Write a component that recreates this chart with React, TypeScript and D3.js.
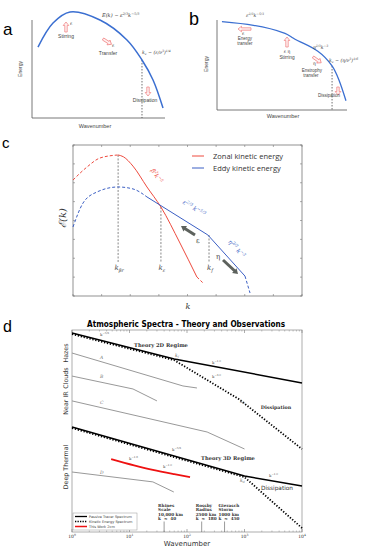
import React from "react"
import * as d3 from "d3"

// ---- panel a: 3D-like cascade (arbitrary units) ----
const aSpectrum: [number, number][] = [[4.5, 72.4], [15.8, 96.9], [28.6, 108.2], [51.1, 100], [71.4, 79.6], [82.7, 59.2], [91, 38.8], [98.5, 10.2]]
const aKnu = 82.7
// ---- panel b: 2D dual cascade ----
const bSpectrum: [number, number][] = [[3.8, 98.1], [52.3, 85.2], [58.5, 80], [88.5, 48.9], [93.8, 33.3], [99.2, 10.3]]
const bKnu = 88.5
// ---- panel c: zonal / eddy kinetic energy ----
const zonalLow: [number, number][] = [[0, 76.8], [6.1, 85.4], [11.8, 91.4], [19.7, 93.4]]
const zonalMid: [number, number][] = [[19.7, 93.4], [22, 92.2], [26.2, 86], [32.3, 72.2], [38.4, 58.9], [46.7, 35.1], [54.1, 12.6]]
const zonalHigh: [number, number][] = [[54.1, 12.6], [56.8, 8.6]]
const eddyLow: [number, number][] = [[0, 45.7], [4.4, 61.6], [10.5, 68.9], [19.7, 72.2], [26.2, 70.9], [32.3, 65.6]]
const eddyMid: [number, number][] = [[32.3, 65.6], [58.9, 40.4], [75.1, 13.2]]
const eddyHigh: [number, number][] = [[75.1, 13.2], [77.3, 2]]
const cMarks = [{ k: 19.7, top: 93.4, sub: "βr" }, { k: 38.4, top: 58.9, sub: "ε" }, { k: 59.4, top: 40.4, sub: "f" }]
// ---- panel d: observations (k, log-energy arbitrary units) ----
const tracer2D: [number, number][] = [[1, 98.5], [60, 85.6], [1e4, 73.8]]
const kinetic2D: [number, number][] = [[1, 98.5], [60, 85.6], [800, 66.3], [1e4, 41.6]]
const tracer3D: [number, number][] = [[1, 52], [1000, 27.7], [1e4, 22.8]]
const kinetic3D: [number, number][] = [[1, 52], [1000, 27.7], [1e4, 2.5]]
const obsA: [number, number][] = [[1, 88.6], [85, 72.3], [149, 71.3]]
const obsB: [number, number][] = [[1, 77.2], [11.5, 70.8], [30, 64.9]]
const obsC: [number, number][] = [[1, 64.9], [224, 49.5], [1000, 41.1]]
const obsD: [number, number][] = [[1, 29.7], [25.5, 24.8], [59, 19.8]]
const thisWork: [number, number][] = [[4.8, 36.1], [12, 33], [25.5, 30.7], [60, 28.6], [113, 27.2]]
const scaleMarks = [
	{ k: 40, lines: ["Rhines", "Scale", "10,000 km", "k  ≈  40"] },
	{ k: 180, lines: ["Rossby", "Radius", "2500 km", "k  ≈  180"] },
	{ k: 450, lines: ["Gierasch", "Storm", "1000 km", "k  ≈  450"] },
]
const bandLabels = [{ t: "Hazes", y: 353 }, { t: "Clouds", y: 378 }, { t: "Near IR", y: 403 }, { t: "Deep Thermal", y: 467 }]
const decades = [1, 10, 100, 1000, 10000]

type Part = [string, ("n" | "sup" | "sub")?]

const Rich = ({ x, y, parts, fs, fill = "#333", italic = false, anchor = "start", family = "DejaVu Serif", weight = "normal", rotate = 0 }: any) => {
	let cur = 0
	const spans = (parts as Part[]).map(([t, k = "n"], i) => {
		const target = k === "sup" ? -fs * 0.42 : k === "sub" ? fs * 0.28 : 0
		const dy = target - cur
		cur = target
		return (
			<tspan key={i} dy={dy} fontSize={k === "n" ? fs : fs * 0.68}>
				{t}
			</tspan>
		)
	})
	return (
		<text x={x} y={y} fontSize={fs} fill={fill} fontStyle={italic ? "italic" : "normal"} fontFamily={family} fontWeight={weight} textAnchor={anchor} transform={rotate ? `rotate(${rotate},${x},${y})` : undefined}>
			{spans}
		</text>
	)
}

const HollowArrow = ({ x, y, len, angle, stroke = "#ef7b7b" }: any) => {
	const h = 3.5
	const p = `M0,-1.2 L${len - h},-1.2 L${len - h},-2.8 L${len},0 L${len - h},2.8 L${len - h},1.2 L0,1.2 Z`
	return <path d={p} transform={`translate(${x},${y}) rotate(${angle})`} fill="#fff1f1" stroke={stroke} strokeWidth={0.7} />
}

const GrayArrow = ({ x1, y1, x2, y2 }: any) => {
	const ang = (Math.atan2(y2 - y1, x2 - x1) * 180) / Math.PI
	const len = Math.hypot(x2 - x1, y2 - y1)
	return (
		<g transform={`translate(${x1},${y1}) rotate(${ang})`}>
			<line x1={0} y1={0} x2={len - 4} y2={0} stroke="#5d625d" strokeWidth={3} />
			<path d={`M${len - 5},-3.3 L${len},0 L${len - 5},3.3 Z`} fill="#5d625d" />
		</g>
	)
}

const sans = "Liberation Sans, Arial, sans-serif"

const PanelA = () => {
	const x = d3.scaleLinear().domain([0, 100]).range([32, 165])
	const y = d3.scaleLinear().domain([0, 100]).range([118, 20])
	const line = d3.line<[number, number]>().x((d) => x(d[0])).y((d) => y(d[1])).curve(d3.curveCatmullRom)
	return (
		<g>
			<text x={3} y={35} fontSize={17} fontFamily={sans}>a</text>
			<path d={`M${x(0)},${y(100)} V${y(0)} H${x(100)}`} fill="none" stroke="#555" strokeWidth={0.8} />
			<line x1={x(aKnu)} x2={x(aKnu)} y1={y(59.2)} y2={y(0)} stroke="#333" strokeWidth={0.7} strokeDasharray="1.5,1.5" />
			<path d={line(aSpectrum) || ""} fill="none" stroke="#3b6fd1" strokeWidth={1.5} />
			<text x={22} y={69} fontSize={5} fontFamily={sans} fill="#444" textAnchor="middle" transform="rotate(-90,22,69)">Energy</text>
			<text x={95} y={128} fontSize={5.5} fontFamily={sans} fill="#444" textAnchor="middle">Wavenumber</text>
			<Rich x={102} y={17} fs={5} italic parts={[["E(k) ~ ε"], ["2/3", "sup"], ["k"], ["−5/3", "sup"]]} />
			<HollowArrow x={66} y={32} len={10} angle={-90} />
			<text x={70} y={25} fontSize={4.5} fontFamily="DejaVu Serif" fill="#333">ε</text>
			<text x={66} y={38} fontSize={5} fontFamily={sans} fill="#444" textAnchor="middle">Stirring</text>
			<HollowArrow x={103} y={39} len={10} angle={32} />
			<text x={112} y={47} fontSize={4.5} fontFamily="DejaVu Serif" fill="#333">ε</text>
			<text x={108} y={55} fontSize={5} fontFamily={sans} fill="#444" textAnchor="middle">Transfer</text>
			<Rich x={142} y={54} fs={4.6} italic parts={[["k"], ["ν", "sub"], [" ~ (ε/ν"], ["3", "sup"], [")"], ["1/4", "sup"]]} />
			<HollowArrow x={148} y={87} len={9} angle={90} />
			<text x={145} y={102} fontSize={5} fontFamily={sans} fill="#444" textAnchor="middle">Dissipation</text>
		</g>
	)
}

const PanelB = () => {
	const x = d3.scaleLinear().domain([0, 100]).range([217, 347])
	const y = d3.scaleLinear().domain([0, 100]).range([110, 20])
	const line = d3.line<[number, number]>().x((d) => x(d[0])).y((d) => y(d[1])).curve(d3.curveMonotoneX)
	return (
		<g>
			<text x={189} y={25} fontSize={18} fontFamily={sans}>b</text>
			<path d={`M${x(0)},${y(100)} V${y(0)} H${x(100)}`} fill="none" stroke="#555" strokeWidth={0.8} />
			<line x1={x(bKnu)} x2={x(bKnu)} y1={y(48.9)} y2={y(0)} stroke="#333" strokeWidth={0.7} strokeDasharray="1.5,1.5" />
			<path d={line(bSpectrum) || ""} fill="none" stroke="#3b6fd1" strokeWidth={1.3} />
			<text x={208} y={64} fontSize={5} fontFamily={sans} fill="#444" textAnchor="middle" transform="rotate(-90,208,64)">Energy</text>
			<text x={283} y={118} fontSize={5.5} fontFamily={sans} fill="#444" textAnchor="middle">Wavenumber</text>
			<Rich x={246} y={17} fs={4.6} italic parts={[["ε"], ["2/3", "sup"], ["k"], ["−5/3", "sup"]]} />
			<HollowArrow x={251} y={29} len={13} angle={180} />
			<text x={242} y={35} fontSize={4.5} fontFamily="DejaVu Serif" fill="#333">ε</text>
			<text x={245} y={40} fontSize={4.5} fontFamily={sans} fill="#444" textAnchor="middle">Energy</text>
			<text x={245} y={45} fontSize={4.5} fontFamily={sans} fill="#444" textAnchor="middle">transfer</text>
			<HollowArrow x={287} y={47} len={10} angle={-90} />
			<text x={287} y={53} fontSize={4.5} fontFamily="DejaVu Serif" fill="#333" textAnchor="middle">ε  η</text>
			<text x={287} y={59} fontSize={4.8} fontFamily={sans} fill="#444" textAnchor="middle">Stirring</text>
			<Rich x={313} y={49} fs={4.6} italic parts={[["η"], ["2/3", "sup"], ["k"], ["−3", "sup"]]} />
			<HollowArrow x={313} y={57} len={10} angle={35} />
			<text x={313} y={65} fontSize={4.5} fontFamily="DejaVu Serif" fill="#333">η</text>
			<text x={312} y={72} fontSize={4.5} fontFamily={sans} fill="#444" textAnchor="middle">Enstrophy</text>
			<text x={311} y={77} fontSize={4.5} fontFamily={sans} fill="#444" textAnchor="middle">transfer</text>
			<Rich x={329} y={62} fs={4.6} italic parts={[["k"], ["ν", "sub"], [" ~ (η/ν"], ["3", "sup"], [")"], ["1/6", "sup"]]} />
			<HollowArrow x={338} y={87} len={8} angle={90} />
			<text x={329} y={97} fontSize={4.5} fontFamily={sans} fill="#444" textAnchor="middle">Dissipation</text>
		</g>
	)
}

const PanelC = () => {
	const x = d3.scaleLinear().domain([0, 100]).range([73, 302])
	const y = d3.scaleLinear().domain([0, 100]).range([296, 145])
	const line = d3.line<[number, number]>().x((d) => x(d[0])).y((d) => y(d[1])).curve(d3.curveMonotoneX)
	const red = "#ee4a3e"
	const blue = "#3b5fc4"
	const ticks = d3.range(0, 101, 12.5)
	return (
		<g>
			<text x={2} y={148} fontSize={15} fontFamily={sans}>c</text>
			<rect x={x(0)} y={y(100)} width={x(100) - x(0)} height={y(0) - y(100)} fill="none" stroke="#777" strokeWidth={0.8} />
			{ticks.map((t) => (
				<g key={t} stroke="#777" strokeWidth={0.6}>
					<line x1={x(t)} x2={x(t)} y1={y(0)} y2={y(0) - 2} />
					<line x1={x(t)} x2={x(t)} y1={y(100)} y2={y(100) + 2} />
					<line x1={x(0)} x2={x(0) + 2} y1={y(t)} y2={y(t)} />
					<line x1={x(100)} x2={x(100) - 2} y1={y(t)} y2={y(t)} />
				</g>
			))}
			{cMarks.map((m) => (
				<g key={m.sub}>
					<line x1={x(m.k)} x2={x(m.k)} y1={y(m.top)} y2={y(22.5)} stroke="#555" strokeWidth={0.7} strokeDasharray="2,1.5" />
					<Rich x={x(m.k) + 1} y={270} fs={7} italic fill="#444" anchor="middle" parts={[["k"], [m.sub, "sub"]]} />
				</g>
			))}
			<path d={line(zonalLow) || ""} fill="none" stroke={red} strokeWidth={1} strokeDasharray="3,2" />
			<path d={line(zonalMid) || ""} fill="none" stroke={red} strokeWidth={1} />
			<path d={line(zonalHigh) || ""} fill="none" stroke={red} strokeWidth={1} strokeDasharray="3,2" />
			<path d={line(eddyLow) || ""} fill="none" stroke={blue} strokeWidth={1} strokeDasharray="3,2" />
			<path d={d3.line<[number, number]>().x((d) => x(d[0])).y((d) => y(d[1]))(eddyMid) || ""} fill="none" stroke={blue} strokeWidth={1} />
			<path d={line(eddyHigh) || ""} fill="none" stroke={blue} strokeWidth={1} strokeDasharray="3,2" />
			<line x1={192} x2={204} y1={156} y2={156} stroke={red} strokeWidth={1} />
			<text x={213} y={159} fontSize={7.5} fontFamily="Open Sans" fill="#333">Zonal kinetic energy</text>
			<line x1={192} x2={204} y1={168} y2={168} stroke={blue} strokeWidth={1} />
			<text x={213} y={171} fontSize={7.5} fontFamily="Open Sans" fill="#333">Eddy kinetic energy</text>
			<Rich x={155} y={177} fs={6} italic fill={red} anchor="middle" rotate={57} parts={[["β"], ["2", "sup"], ["k"], ["−5", "sup"]]} />
			<Rich x={193} y={210} fs={6} italic fill={blue} anchor="middle" rotate={32} parts={[["ε"], ["2/3", "sup"], [" k"], ["−5/3", "sup"]]} />
			<Rich x={235} y={250} fs={6} italic fill={blue} anchor="middle" rotate={48} parts={[["η"], ["2/3", "sup"], [" k"], ["−3", "sup"]]} />
			<GrayArrow x1={195} y1={235} x2={181} y2={226} />
			<text x={196} y={243} fontSize={7} fontFamily="DejaVu Serif" fill="#444">ε</text>
			<GrayArrow x1={223} y1={260} x2={238} y2={274} />
			<text x={216} y={259} fontSize={7} fontFamily="DejaVu Serif" fill="#444">η</text>
			<text x={66} y={218} fontSize={10} fontFamily="DejaVu Serif" fontStyle="italic" fill="#333" textAnchor="middle" transform="rotate(-90,66,218)">ℰ(k)</text>
			<text x={188} y={309} fontSize={8} fontFamily="DejaVu Serif" fontStyle="italic" fill="#333" textAnchor="middle">k</text>
		</g>
	)
}

const PanelD = () => {
	const x = d3.scaleLog().domain([1, 1e4]).range([72, 302])
	const y = d3.scaleLinear().domain([0, 100]).range([532, 330])
	const line = d3.line<[number, number]>().x((d) => x(d[0])).y((d) => y(d[1]))
	const smooth = d3.line<[number, number]>().x((d) => x(d[0])).y((d) => y(d[1])).curve(d3.curveMonotoneX)
	const minor: number[] = []
	decades.slice(0, 4).forEach((d) => d3.range(2, 10).forEach((m) => minor.push(d * m)))
	const bold = { fontFamily: "DejaVu Serif", fontWeight: "bold" as const }
	return (
		<g>
			<text x={3} y={332} fontSize={16} fontFamily={sans}>d</text>
			<text x={186} y={327} fontSize={8} fontFamily="DejaVu Sans" fontWeight="bold" textAnchor="middle" textLength={198} lengthAdjust="spacingAndGlyphs">
				Atmospheric Spectra - Theory and Observations
			</text>
			<rect x={72} y={330} width={230} height={202} fill="none" stroke="#999" strokeWidth={0.8} />
			{decades.map((d) => (
				<g key={d} stroke="#777" strokeWidth={0.6}>
					<line x1={x(d)} x2={x(d)} y1={532} y2={529} />
					<line x1={x(d)} x2={x(d)} y1={330} y2={333} />
				</g>
			))}
			{minor.map((d) => (
				<g key={d} stroke="#888" strokeWidth={0.5}>
					<line x1={x(d)} x2={x(d)} y1={532} y2={530.5} />
					<line x1={x(d)} x2={x(d)} y1={330} y2={331.5} />
				</g>
			))}
			{decades.map((d, i) => (
				<Rich key={d} x={x(d)} y={538} fs={4.5} anchor="middle" parts={[["10"], [String(i), "sup"]]} />
			))}
			<text x={187} y={546} fontSize={7} fontFamily="DejaVu Sans" fill="#333" textAnchor="middle">Wavenumber</text>
			{bandLabels.map((b) => (
				<text key={b.t} x={68} y={b.y} fontSize={6.3} fontFamily="DejaVu Sans" fill="#333" textAnchor="middle" transform={`rotate(-90,68,${b.y})`}>
					{b.t}
				</text>
			))}
			{[obsA, obsB, obsC, obsD].map((s, i) => (
				<path key={i} d={line(s) || ""} fill="none" stroke="#999" strokeWidth={1} />
			))}
			{["A", "B", "C", "D"].map((t, i) => (
				<text key={t} x={100} y={[359, 378, 404, 474][i]} fontSize={4.5} fontFamily="DejaVu Serif" fontStyle="italic" fill="#777">{t}</text>
			))}
			<path d={smooth(thisWork) || ""} fill="none" stroke="#ee1111" strokeWidth={1.8} />
			{[kinetic2D, kinetic3D].map((s, i) => (
				<path key={i} d={line(s) || ""} transform="translate(0,1.1)" fill="none" stroke="#000" strokeWidth={1.8} strokeDasharray="1.3,1.7" />
			))}
			{[tracer2D, tracer3D].map((s, i) => (
				<path key={i} d={line(s) || ""} fill="none" stroke="#000" strokeWidth={1.5} />
			))}
			<Rich x={100} y={336} fs={4} fill="#555" parts={[["k"], ["−5/3", "sup"]]} />
			<text x={161} y={347} fontSize={5.2} {...bold} fill="#333" textAnchor="middle">Theory 2D Regime</text>
			<Rich x={175} y={357} fs={4.5} italic fill="#555" parts={[["k"], ["f", "sub"]]} />
			<Rich x={212} y={364} fs={4} fill="#555" parts={[["k"], ["−1.0", "sup"]]} />
			<Rich x={212} y={378} fs={4} fill="#555" parts={[["k"], ["−3.0", "sup"]]} />
			<Rich x={240} y={403} fs={4.5} italic fill="#555" parts={[["k"], ["d", "sub"]]} />
			<text x={276} y={409} fontSize={4.8} {...bold} fill="#333" textAnchor="middle">Dissipation</text>
			<Rich x={172} y={451} fs={4} fill="#555" parts={[["k"], ["−5/3", "sup"]]} />
			<text x={228} y={460} fontSize={5.2} {...bold} fill="#333" textAnchor="middle">Theory 3D Regime</text>
			<Rich x={269} y={477} fs={4} fill="#555" parts={[["k"], ["−1.0", "sup"]]} />
			<Rich x={240} y={482} fs={4.5} italic fill="#555" parts={[["k"], ["d", "sub"]]} />
			<text x={277} y={490} fontSize={5.8} fontFamily="DejaVu Sans" fill="#333" textAnchor="middle">Dissipation</text>
			<Rich x={129} y={460} fs={4} fill="#555" parts={[["k"], ["−1.6", "sup"]]} />
			<Rich x={163} y={468} fs={4} fill="#555" parts={[["k"], ["−1.0", "sup"]]} />
			{scaleMarks.map((m) => (
				<g key={m.k}>
					<line x1={x(m.k)} x2={x(m.k)} y1={521.5} y2={532} stroke="#555" strokeWidth={0.6} />
					{m.lines.map((t, i) => (
						<text key={i} x={x(m.k) - 6} y={507 + i * 4.4} fontSize={4.2} {...bold} fill="#333" xmlSpace="preserve">{t}</text>
					))}
				</g>
			))}
			<rect x={73} y={513} width={64} height={17} fill="#fff" stroke="#999" strokeWidth={0.5} />
			<line x1={75} x2={87} y1={516.5} y2={516.5} stroke="#000" strokeWidth={1.3} />
			<line x1={75} x2={87} y1={521.5} y2={521.5} stroke="#000" strokeWidth={1.6} strokeDasharray="1.3,1.2" />
			<line x1={75} x2={87} y1={526.5} y2={526.5} stroke="#ee1111" strokeWidth={1.5} />
			{["Passive Tracer Spectrum", "Kinetic Energy Spectrum", "This Work 2cm"].map((t, i) => (
				<text key={t} x={89} y={518 + i * 5} fontSize={3.5} fontFamily="DejaVu Sans" fill="#444">{t}</text>
			))}
		</g>
	)
}

const App = () => {
	return (
		<svg width={371} height={550} style={{ position: "absolute", left: 0, top: 0, background: "#fff" }}>
			<PanelA />
			<PanelB />
			<PanelC />
			<PanelD />
		</svg>
	)
}

export default App
